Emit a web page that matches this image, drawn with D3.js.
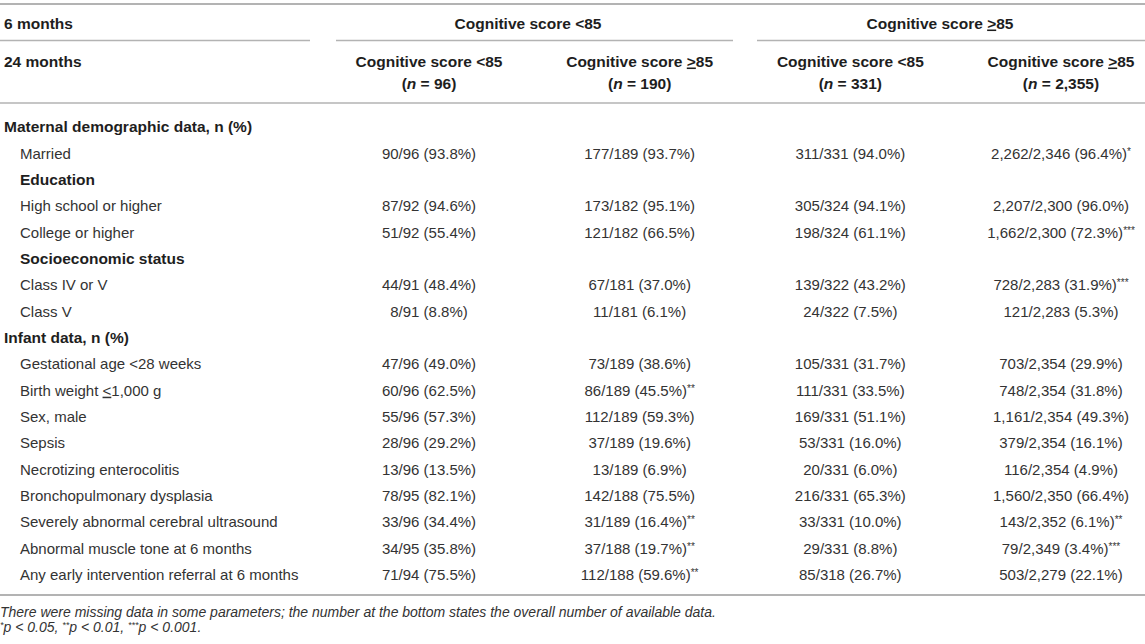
<!DOCTYPE html>
<html>
<head>
<meta charset="utf-8">
<script src="https://cdn.jsdelivr.net/npm/d3@7"></script>
<style>
  body { margin: 0; background: #fff; }
  svg text { font-family: "Liberation Sans", Arial, Helvetica, sans-serif; }
</style>
</head>
<body>
<div id="table"></div>
<script>
// header labels
var topGroups = ["Cognitive score <85", "Cognitive score ≥85"];
var subGroups = ["Cognitive score <85", "Cognitive score ≥85", "Cognitive score <85", "Cognitive score ≥85"];
var groupN = ["96", "190", "331", "2,355"];

// row labels and kind: s = section, g = sub-group, i = item
var rowLabels = [
    "Maternal demographic data, n (%)", "Married", "Education", "High school or higher",
    "College or higher", "Socioeconomic status", "Class IV or V", "Class V",
    "Infant data, n (%)", "Gestational age <28 weeks", "Birth weight ≤1,000 g", "Sex, male",
    "Sepsis", "Necrotizing enterocolitis", "Bronchopulmonary dysplasia",
    "Severely abnormal cerebral ultrasound", "Abnormal muscle tone at 6 months",
    "Any early intervention referral at 6 months"
];
var rowKinds = ["s", "i", "g", "i", "i", "g", "i", "i", "s", "i", "i", "i", "i", "i", "i", "i", "i", "i"];

// cell values per column
var colLowLow = ["", "90/96 (93.8%)", "", "87/92 (94.6%)", "51/92 (55.4%)", "", "44/91 (48.4%)", "8/91 (8.8%)",
    "", "47/96 (49.0%)", "60/96 (62.5%)", "55/96 (57.3%)", "28/96 (29.2%)", "13/96 (13.5%)",
    "78/95 (82.1%)", "33/96 (34.4%)", "34/95 (35.8%)", "71/94 (75.5%)"];
var colLowHigh = ["", "177/189 (93.7%)", "", "173/182 (95.1%)", "121/182 (66.5%)", "", "67/181 (37.0%)", "11/181 (6.1%)",
    "", "73/189 (38.6%)", "86/189 (45.5%)", "112/189 (59.3%)", "37/189 (19.6%)", "13/189 (6.9%)",
    "142/188 (75.5%)", "31/189 (16.4%)", "37/188 (19.7%)", "112/188 (59.6%)"];
var colHighLow = ["", "311/331 (94.0%)", "", "305/324 (94.1%)", "198/324 (61.1%)", "", "139/322 (43.2%)", "24/322 (7.5%)",
    "", "105/331 (31.7%)", "111/331 (33.5%)", "169/331 (51.1%)", "53/331 (16.0%)", "20/331 (6.0%)",
    "216/331 (65.3%)", "33/331 (10.0%)", "29/331 (8.8%)", "85/318 (26.7%)"];
var colHighHigh = ["", "2,262/2,346 (96.4%)", "", "2,207/2,300 (96.0%)", "1,662/2,300 (72.3%)", "", "728/2,283 (31.9%)", "121/2,283 (5.3%)",
    "", "703/2,354 (29.9%)", "748/2,354 (31.8%)", "1,161/2,354 (49.3%)", "379/2,354 (16.1%)", "116/2,354 (4.9%)",
    "1,560/2,350 (66.4%)", "143/2,352 (6.1%)", "79/2,349 (3.4%)", "503/2,279 (22.1%)"];

// significance stars per column
var sigLowHigh = ["", "", "", "", "", "", "", "", "", "", "**", "", "", "", "", "**", "**", "**"];
var sigHighHigh = ["", "*", "", "", "***", "", "***", "", "", "", "", "", "", "", "", "**", "***", ""];
var sigNone = rowLabels.map(function() { return ""; });

var footNote = "There were missing data in some parameters; the number at the bottom states the overall number of available data.";
var pNotes = [["*", "p < 0.05, "], ["**", "p < 0.01, "], ["***", "p < 0.001."]];

var columns = [
    { values: colLowLow, sig: sigNone },
    { values: colLowHigh, sig: sigLowHigh },
    { values: colHighLow, sig: sigNone },
    { values: colHighHigh, sig: sigHighHigh }
];

var width = 1145, height = 644;
var ink = "#1e1e1e", soft = "#333", rule = "#b3b3b3";
var fs = 15, fsBold = 15.5;

var svg = d3.select("#table").append("svg")
    .attr("width", width)
    .attr("height", height);

var x = d3.scalePoint()
    .domain(d3.range(columns.length))
    .range([429, 1061]);

var xTop = d3.scalePoint()
    .domain(d3.range(topGroups.length))
    .range([528, 940]);

var y = d3.scaleLinear()
    .domain([0, rowLabels.length - 1])
    .range([126.8, 574.6]);

// write a string, turning ≥ / ≤ into underlined > / <
function addRich(sel, str) {
    var parts = str.split(/([≥≤])/);
    parts.forEach(function(p) {
        if (p === "") return;
        if (p === "≥" || p === "≤") {
            sel.append("tspan")
                .attr("text-decoration", "underline")
                .text(p === "≥" ? ">" : "<");
        } else {
            sel.append("tspan").text(p);
        }
    });
}

// rules
var hRules = [
    { y: 4, x0: 0, x1: width, w: 2 },
    { y: 40.5, x0: 0, x1: 310, w: 1.5 },
    { y: 40.5, x0: 336, x1: 733, w: 1.5 },
    { y: 40.5, x0: 757, x1: width, w: 1.5 },
    { y: 103, x0: 0, x1: width, w: 1.5 },
    { y: 595, x0: 0, x1: width, w: 2 }
];
svg.selectAll("line.rule")
    .data(hRules)
    .enter().append("line")
    .attr("class", "rule")
    .attr("x1", function(d) { return d.x0; })
    .attr("x2", function(d) { return d.x1; })
    .attr("y1", function(d) { return d.y; })
    .attr("y2", function(d) { return d.y; })
    .attr("stroke", rule)
    .attr("stroke-width", function(d) { return d.w; });

// header
svg.append("text")
    .attr("x", 4).attr("y", 28.5)
    .attr("font-size", fsBold).attr("font-weight", "bold")
    .attr("fill", ink)
    .text("6 months");

svg.append("text")
    .attr("x", 4).attr("y", 66.5)
    .attr("font-size", fsBold).attr("font-weight", "bold")
    .attr("fill", ink)
    .text("24 months");

svg.selectAll("text.top")
    .data(topGroups)
    .enter().append("text")
    .attr("class", "top")
    .attr("x", function(d, i) { return xTop(i); })
    .attr("y", 28.5)
    .attr("text-anchor", "middle")
    .attr("font-size", fsBold).attr("font-weight", "bold")
    .attr("fill", ink)
    .each(function(d) { addRich(d3.select(this), d); });

svg.selectAll("text.sub")
    .data(subGroups)
    .enter().append("text")
    .attr("class", "sub")
    .attr("x", function(d, i) { return x(i); })
    .attr("y", 66.5)
    .attr("text-anchor", "middle")
    .attr("font-size", fsBold).attr("font-weight", "bold")
    .attr("fill", ink)
    .each(function(d) { addRich(d3.select(this), d); });

svg.selectAll("text.n")
    .data(groupN)
    .enter().append("text")
    .attr("class", "n")
    .attr("x", function(d, i) { return x(i); })
    .attr("y", 88.5)
    .attr("text-anchor", "middle")
    .attr("font-size", fsBold).attr("font-weight", "bold")
    .attr("fill", ink)
    .each(function(d) {
        var t = d3.select(this);
        t.append("tspan").text("(");
        t.append("tspan").attr("font-style", "italic").text("n");
        t.append("tspan").text(" = " + d + ")");
    });

// row labels
svg.selectAll("text.label")
    .data(rowLabels)
    .enter().append("text")
    .attr("class", "label")
    .attr("x", function(d, i) { return rowKinds[i] === "s" ? 4 : 20; })
    .attr("y", function(d, i) { return y(i) + 5.5; })
    .attr("font-size", function(d, i) { return rowKinds[i] === "i" ? fs : fsBold; })
    .attr("font-weight", function(d, i) { return rowKinds[i] === "i" ? "normal" : "bold"; })
    .attr("fill", function(d, i) { return rowKinds[i] === "i" ? soft : ink; })
    .each(function(d) { addRich(d3.select(this), d); });

// cells
columns.forEach(function(col, c) {
    var cells = col.values
        .map(function(v, i) { return { v: v, s: col.sig[i], row: i }; })
        .filter(function(d) { return d.v !== ""; });

    svg.selectAll("text.cell" + c)
        .data(cells)
        .enter().append("text")
        .attr("class", "cell" + c)
        .attr("x", x(c))
        .attr("y", function(d) { return y(d.row) + 5.5; })
        .attr("text-anchor", "middle")
        .attr("font-size", fs)
        .attr("fill", soft)
        .each(function(d) {
            var t = d3.select(this);
            t.append("tspan").text(d.v);
            if (d.s) {
                t.append("tspan")
                    .attr("font-size", 10)
                    .attr("dy", -4)
                    .text(d.s);
            }
        });
});

// footnotes
svg.append("text")
    .attr("x", 0).attr("y", 617)
    .attr("font-size", 14)
    .attr("font-style", "italic")
    .attr("fill", soft)
    .text(footNote);

var pLine = svg.append("text")
    .attr("x", 0).attr("y", 632)
    .attr("font-size", 14)
    .attr("font-style", "italic")
    .attr("fill", soft);
pNotes.forEach(function(p) {
    pLine.append("tspan")
        .attr("font-size", 9)
        .attr("dy", -4)
        .text(p[0]);
    pLine.append("tspan")
        .attr("dy", 4)
        .text(p[1]);
});
</script>
</body>
</html>
